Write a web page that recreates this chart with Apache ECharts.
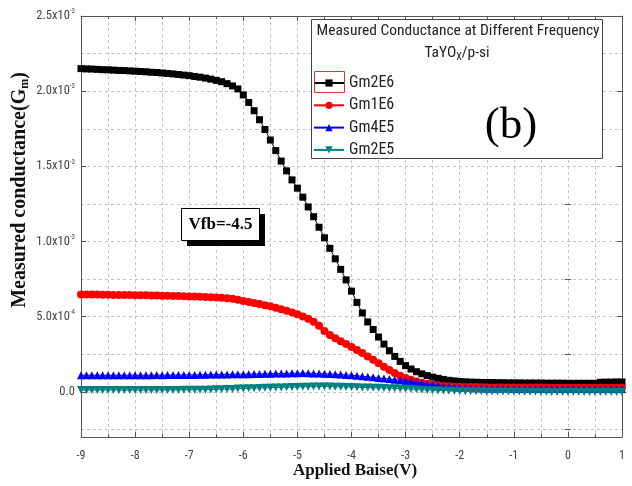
<!DOCTYPE html>
<html>
<head>
<meta charset="utf-8">
<script src="https://cdn.jsdelivr.net/npm/echarts@6/dist/echarts.min.js"></script>
<style>
html,body{margin:0;padding:0;background:#fff;}
#chart{width:632px;height:486px;}
</style>
</head>
<body>
<div id="chart"></div>
<script>
// Applied bias (V)
var bias = [
 -9.0,-8.9,-8.8,-8.7,-8.6,-8.5,-8.4,-8.3,-8.2,-8.1,
 -8.0,-7.9,-7.8,-7.7,-7.6,-7.5,-7.4,-7.3,-7.2,-7.1,
 -7.0,-6.9,-6.8,-6.7,-6.6,-6.5,-6.4,-6.3,-6.2,-6.1,
 -6.0,-5.9,-5.8,-5.7,-5.6,-5.5,-5.4,-5.3,-5.2,-5.1,
 -5.0,-4.9,-4.8,-4.7,-4.6,-4.5,-4.4,-4.3,-4.2,-4.1,
 -4.0,-3.9,-3.8,-3.7,-3.6,-3.5,-3.4,-3.3,-3.2,-3.1,
 -3.0,-2.9,-2.8,-2.7,-2.6,-2.5,-2.4,-2.3,-2.2,-2.1,
 -2.0,-1.9,-1.8,-1.7,-1.6,-1.5,-1.4,-1.3,-1.2,-1.1,
 -1.0,-0.9,-0.8,-0.7,-0.6,-0.5,-0.4,-0.3,-0.2,-0.1,
 0.0,0.1,0.2,0.3,0.4,0.5,0.6,0.7,0.8,0.9,
 1.0
];
// Measured conductance, in units of 1e-3
var gm2E6 = [
 2.150,2.148,2.147,2.145,2.143,2.142,2.140,2.138,2.137,2.135,
 2.133,2.131,2.129,2.126,2.124,2.121,2.118,2.115,2.111,2.107,
 2.103,2.098,2.093,2.087,2.080,2.072,2.063,2.050,2.035,2.015,
 1.975,1.925,1.870,1.810,1.745,1.675,1.605,1.535,1.470,1.410,
 1.355,1.295,1.230,1.165,1.095,1.025,0.955,0.885,0.815,0.745,
 0.670,0.595,0.525,0.465,0.415,0.365,0.318,0.274,0.236,0.203,
 0.175,0.152,0.134,0.120,0.108,0.098,0.090,0.083,0.077,0.073,
 0.069,0.067,0.065,0.064,0.063,0.062,0.062,0.061,0.061,0.060,
 0.060,0.060,0.059,0.059,0.059,0.059,0.058,0.058,0.058,0.058,
 0.057,0.057,0.057,0.057,0.057,0.057,0.064,0.065,0.065,0.066,
 0.066
];
var gm1E6 = [
 0.648,0.648,0.647,0.647,0.646,0.646,0.645,0.645,0.644,0.644,
 0.643,0.643,0.642,0.641,0.641,0.640,0.639,0.638,0.637,0.636,
 0.635,0.634,0.633,0.631,0.630,0.628,0.626,0.623,0.620,0.613,
 0.605,0.598,0.592,0.585,0.577,0.569,0.560,0.550,0.540,0.528,
 0.516,0.502,0.487,0.466,0.440,0.405,0.378,0.356,0.337,0.318,
 0.298,0.278,0.258,0.236,0.214,0.191,0.168,0.146,0.126,0.108,
 0.093,0.080,0.069,0.060,0.053,0.047,0.043,0.040,0.037,0.035,
 0.034,0.033,0.032,0.032,0.031,0.031,0.030,0.030,0.030,0.030,
 0.030,0.029,0.029,0.029,0.029,0.029,0.029,0.028,0.028,0.028,
 0.028,0.028,0.028,0.028,0.028,0.028,0.028,0.028,0.028,0.028,
 0.028
];
var gm4E5 = [
 0.110,0.111,0.110,0.111,0.110,0.111,0.110,0.111,0.110,0.111,
 0.111,0.110,0.111,0.111,0.112,0.111,0.112,0.112,0.112,0.113,
 0.113,0.113,0.114,0.114,0.115,0.115,0.116,0.116,0.117,0.117,
 0.118,0.118,0.119,0.119,0.120,0.121,0.122,0.122,0.123,0.124,
 0.124,0.125,0.124,0.123,0.122,0.121,0.119,0.117,0.115,0.113,
 0.110,0.107,0.104,0.100,0.097,0.093,0.089,0.085,0.081,0.077,
 0.073,0.068,0.063,0.058,0.053,0.047,0.042,0.038,0.034,0.031,
 0.029,0.027,0.026,0.025,0.024,0.023,0.023,0.022,0.022,0.022,
 0.021,0.021,0.021,0.021,0.021,0.021,0.021,0.021,0.021,0.021,
 0.021,0.021,0.020,0.020,0.020,0.020,0.020,0.020,0.020,0.020,
 0.020
];
var gm2E5 = [
 0.012,0.012,0.012,0.012,0.012,0.012,0.012,0.012,0.012,0.012,
 0.012,0.012,0.012,0.012,0.013,0.013,0.013,0.013,0.013,0.014,
 0.014,0.014,0.015,0.015,0.016,0.017,0.018,0.019,0.020,0.022,
 0.023,0.024,0.025,0.026,0.027,0.028,0.029,0.030,0.031,0.032,
 0.033,0.034,0.035,0.036,0.036,0.036,0.036,0.035,0.034,0.033,
 0.032,0.031,0.030,0.029,0.028,0.027,0.026,0.025,0.024,0.023,
 0.021,0.019,0.017,0.015,0.013,0.011,0.010,0.009,0.008,0.007,
 0.006,0.005,0.005,0.004,0.004,0.003,0.003,0.003,0.002,0.002,
 0.002,0.002,0.001,0.001,0.001,0.001,0.001,0.000,0.000,0.000,
 0.000,0.000,0.000,0.000,0.000,0.000,0.000,0.000,0.000,0.000,
 0.000
];
var seriesNames = ['Gm2E6', 'Gm1E6', 'Gm4E5', 'Gm2E5'];
var xTicks = [-9, -8, -7, -6, -5, -4, -3, -2, -1, 0, 1];
var yMajorTicks = [0, 0.5, 1.0, 1.5, 2.0, 2.5];
var yMajorMantissa = ['0.0', '5.0x10', '1.0x10', '1.5x10', '2.0x10', '2.5x10'];
var yMajorExponent = ['', '-4', '-3', '-3', '-3', '-3'];
var yMinorTicks = [-0.25, 0.25, 0.75, 1.25, 1.75, 2.25];
var legendTitle = 'Measured Conductance at Different Frequency';

function pairs(arr) {
  return bias.map(function (b, i) { return [b, arr[i]]; });
}

var NARROW = '"Liberation Sans Narrow", "Arial Narrow", "Roboto Condensed", "DejaVu Sans Condensed", sans-serif';
var SERIF = '"Liberation Serif", "Times New Roman", serif';
var gridLine = { show: true, lineStyle: { color: '#c4c4c4', type: [3, 3], width: 1 } };
var frame = { show: true, onZero: false, lineStyle: { color: '#555', width: 1 } };

var chart = echarts.init(document.getElementById('chart'), null, { renderer: 'canvas' });
var colors = ['#000000', '#ff0000', '#0000ff', '#008080'];
var symbols = ['rect', 'circle', 'triangle', 'triangle'];
var symbolSizes = [7, 8, 8, 8];
var dataSets = [gm2E6, gm1E6, gm4E5, gm2E5];

var series = seriesNames.map(function (n, i) {
  return {
    name: n,
    type: 'line',
    xAxisIndex: 0,
    yAxisIndex: 0,
    data: pairs(dataSets[i]),
    symbol: symbols[i],
    symbolSize: symbolSizes[i],
    symbolRotate: i === 3 ? 180 : 0,
    showAllSymbol: true,
    itemStyle: { color: colors[i] },
    lineStyle: { color: colors[i], width: 1 },
    z: 3 + i
  };
});

chart.setOption({
  animation: false,
  backgroundColor: '#ffffff',
  grid: { left: 81, right: 10, top: 16, bottom: 49, containLabel: false },
  xAxis: [
    {
      type: 'value', position: 'bottom', min: -9, max: 1, interval: 1,
      axisLine: frame,
      axisTick: { inside: true, length: 5, lineStyle: { color: '#555' } },
      minorTick: { show: true, splitNumber: 2, length: 3, lineStyle: { color: '#555' } },
      splitLine: gridLine,
      minorSplitLine: gridLine,
      axisLabel: {
        margin: 13, color: '#444', fontSize: 12, fontFamily: NARROW,
        formatter: function (v) { return String(v); }
      }
    },
    {
      type: 'value', position: 'top', min: -9, max: 1, interval: 1,
      axisLine: frame,
      axisTick: { inside: true, length: 5, lineStyle: { color: '#555' } },
      minorTick: { show: true, splitNumber: 2, length: 3, lineStyle: { color: '#555' } },
      splitLine: { show: false }, minorSplitLine: { show: false },
      axisLabel: { show: false }
    }
  ],
  yAxis: [
    {
      type: 'value', position: 'left', min: -0.3, max: 2.5,
      axisLine: frame,
      axisTick: { inside: true, length: 5, customValues: yMajorTicks, lineStyle: { color: '#555' } },
      splitLine: gridLine,
      axisLabel: {
        customValues: yMajorTicks, margin: 6, color: '#444', fontSize: 12, fontFamily: NARROW,
        formatter: function (v) {
          var k = yMajorTicks.indexOf(Math.round(v * 100) / 100);
          if (k < 0) return '';
          if (!yMajorExponent[k]) return '{m|' + yMajorMantissa[k] + '}';
          return '{m|' + yMajorMantissa[k] + '}{e|' + yMajorExponent[k] + '}';
        },
        rich: {
          m: { fontSize: 12.5, fontFamily: NARROW, color: '#444' },
          e: { fontSize: 7, fontFamily: NARROW, color: '#444', padding: [0, 0, 9, 0] }
        }
      }
    },
    {
      type: 'value', position: 'left', min: -0.3, max: 2.5,
      axisLine: { show: false },
      axisTick: { inside: true, length: 3, customValues: yMinorTicks, lineStyle: { color: '#555' } },
      splitLine: gridLine,
      axisLabel: { show: false }
    },
    {
      type: 'value', position: 'right', min: -0.3, max: 2.5,
      axisLine: frame,
      axisTick: { inside: true, length: 5, customValues: yMajorTicks, lineStyle: { color: '#555' } },
      splitLine: { show: false },
      axisLabel: { show: false }
    },
    {
      type: 'value', position: 'right', min: -0.3, max: 2.5,
      axisLine: { show: false },
      axisTick: { inside: true, length: 3, customValues: yMinorTicks, lineStyle: { color: '#555' } },
      splitLine: { show: false },
      axisLabel: { show: false }
    }
  ],
  legend: {
    data: seriesNames,
    orient: 'vertical',
    left: 313, top: 75, padding: 0,
    itemWidth: 30, itemHeight: 9, itemGap: 6.3,
    textStyle: { fontSize: 16, lineHeight: 16, fontFamily: NARROW, color: '#222' },
    selectedMode: false,
    z: 20
  },
  graphic: [
    { type: 'rect', z: 10, shape: { x: 311.5, y: 19.5, width: 291, height: 139 },
      style: { fill: '#fff', stroke: '#444', lineWidth: 1 } },
    { type: 'text', z: 11, x: 458, y: 31,
      style: { text: legendTitle, fontSize: 15.5, fontFamily: NARROW, fill: '#222', align: 'center', verticalAlign: 'middle' } },
    { type: 'text', z: 11, x: 457, y: 53,
      style: { text: '{a|TaYO}{s|X}{a|/p-si}', align: 'center', verticalAlign: 'middle',
        rich: { a: { fontSize: 15.5, fontFamily: NARROW, fill: '#222' },
                s: { fontSize: 10, fontFamily: NARROW, fill: '#222', padding: [9, 0, 0, 0] } } } },
    { type: 'rect', z: 25, shape: { x: 314.5, y: 71.5, width: 30, height: 21 },
      style: { fill: 'none', stroke: '#e03030', lineWidth: 1 } },
    { type: 'text', z: 11, x: 511, y: 126,
      style: { text: '(b)', fontSize: 45, fontFamily: SERIF, fill: '#000', align: 'center', verticalAlign: 'middle' } },
    { type: 'rect', z: 10, shape: { x: 187, y: 214, width: 78, height: 32 },
      style: { fill: '#000' } },
    { type: 'rect', z: 11, shape: { x: 181.5, y: 208.5, width: 78, height: 32 },
      style: { fill: '#fff', stroke: '#000', lineWidth: 1 } },
    { type: 'text', z: 12, x: 220.5, y: 225,
      style: { text: 'Vfb=-4.5', fontSize: 17, fontWeight: 'bold', fontFamily: SERIF, fill: '#000', align: 'center', verticalAlign: 'middle' } },
    { type: 'text', z: 12, x: 355, y: 471,
      style: { text: 'Applied Baise(V)', fontSize: 17, fontWeight: 'bold', fontFamily: SERIF, fill: '#111', align: 'center', verticalAlign: 'middle' } },
    { type: 'text', z: 12, x: 20, y: 190, rotation: Math.PI / 2,
      style: { text: '{a|Measured conductance(G}{s|m}{a|)}', align: 'center', verticalAlign: 'middle',
        rich: { a: { fontSize: 20, fontWeight: 'bold', fontFamily: SERIF, fill: '#111' },
                s: { fontSize: 12, fontWeight: 'bold', fontFamily: SERIF, fill: '#111', padding: [10, 0, 0, 0] } } } }
  ],
  series: series
});
</script>
</body>
</html>
